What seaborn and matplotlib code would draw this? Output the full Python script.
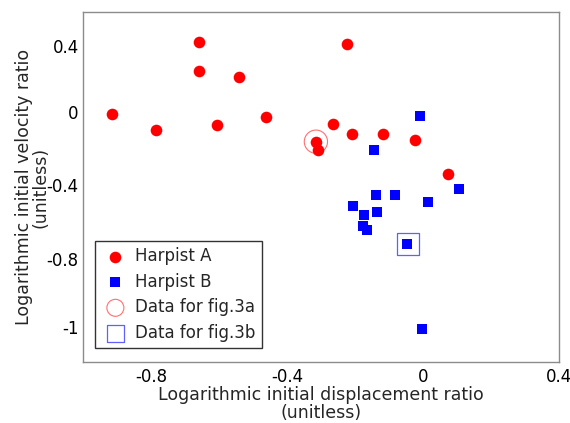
import matplotlib
matplotlib.use("Agg")
import matplotlib.pyplot as plt
import seaborn as sns
import pandas as pd

# Harpist A (red circles)
a_x = [-0.659, -0.659, -0.540, -0.915, -0.784, -0.606, -0.462, -0.315, -0.308,
       -0.264, -0.223, -0.210, -0.119, -0.024, 0.074]
a_y = [0.429, 0.263, 0.230, 0.015, -0.073, -0.046, 0.002, -0.145, -0.189,
       -0.040, 0.415, -0.095, -0.097, -0.131, -0.326]

# Harpist B (blue squares)
b_x = [-0.009, -0.143, 0.105, -0.138, -0.083, 0.016, -0.207, -0.173, -0.135,
       -0.177, -0.166, -0.047, -0.004]
b_y = [0.006, -0.190, -0.410, -0.446, -0.444, -0.484, -0.509, -0.560, -0.543,
       -0.623, -0.644, -0.724, -1.213]

# Highlighted points
fig3a_x = [-0.315]
fig3a_y = [-0.141]
fig3b_x = [-0.044]
fig3b_y = [-0.727]

x_ticks = [-0.8, -0.4, 0.0, 0.4]
x_ticklabels = ["-0.8", "-0.4", "0", "0.4"]
y_ticks = [0.407, 0.030, -0.389, -0.811, -1.198]
y_ticklabels = ["0.4", "0", "-0.4", "-0.8", "-1"]

sns.set_style("white")
plt.rcParams['font.family'] = ['DejaVu Sans']
plt.rcParams['axes.unicode_minus'] = False

fig = plt.figure(figsize=(5.7, 4.23), dpi=100)
ax = fig.add_axes([83/570, 1-362/423, (559-83)/570, (362-12)/423])

dfa = pd.DataFrame({"x": a_x, "y": a_y})
dfb = pd.DataFrame({"x": b_x, "y": b_y})

sns.scatterplot(data=dfa, x="x", y="y", ax=ax, color="#ff0000", marker="o",
                s=70, linewidth=0, label="Harpist A", zorder=3)
sns.scatterplot(data=dfb, x="x", y="y", ax=ax, color="#0000ff", marker="s",
                s=55, linewidth=0, label="Harpist B", zorder=3)
ax.scatter(fig3a_x, fig3a_y, s=280, marker="o", facecolors="none",
           edgecolors="#ff7070", linewidths=0.8, label="Data for fig.3a", zorder=2)
ax.scatter(fig3b_x, fig3b_y, s=260, marker="s", facecolors="none",
           edgecolors="#6060ff", linewidths=0.9, label="Data for fig.3b", zorder=2)

ax.set_xlim(-1.0, 0.4)
ax.set_ylim(-1.4, 0.6)
ax.set_xticks(x_ticks)
ax.set_xticklabels(x_ticklabels)
ax.set_yticks(y_ticks)
ax.set_yticklabels(y_ticklabels)
ax.tick_params(length=0, labelsize=12, colors="black")
ax.tick_params(axis="x", pad=4)
ax.tick_params(axis="y", pad=3)

ax.set_xlabel("Logarithmic initial displacement ratio\n(unitless)", fontsize=12.5,
              labelpad=0, linespacing=1.0)
ax.set_ylabel("Logarithmic initial velocity ratio\n(unitless)", fontsize=12.5,
              labelpad=-2, linespacing=0.9)

for sp in ax.spines.values():
    sp.set_color("#8c8c8c")
    sp.set_linewidth(1.0)

leg = ax.legend(loc="lower left", bbox_to_anchor=(0.026, 0.039), borderaxespad=0,
                fontsize=12, frameon=True, fancybox=False, framealpha=1,
                edgecolor="#333333", handletextpad=0.4, labelspacing=0.45,
                borderpad=0.4, handlelength=1.6)
leg.get_frame().set_linewidth(1.0)
hs = leg.legend_handles
hs[0].set_sizes([70])
hs[1].set_sizes([55])
hs[2].set_sizes([150])
hs[3].set_sizes([150])

fig.savefig("out.png", dpi=100)
